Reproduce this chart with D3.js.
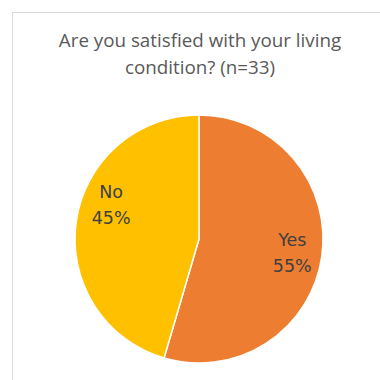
<!DOCTYPE html>
<html>
<head>
<meta charset="utf-8">
<script src="https://cdn.jsdelivr.net/npm/d3@7"></script>
<style>
  html, body { margin: 0; padding: 0; background: #fff; }
  svg { display: block; }
</style>
</head>
<body>
<svg id="chart" width="380" height="380"></svg>
<script>
// Survey responses (n = 33)
const categories = ["Yes", "No"];
const counts = [18, 15];
const percentLabels = ["55%", "45%"];
const colors = ["#ED7D31", "#FFC000"];
const titleLines = ["Are you satisfied with your living", "condition? (n=33)"];

const svg = d3.select("#chart");
const W = 380, H = 380;

// chart area frame
svg.append("rect")
  .attr("x", 12.5).attr("y", 12.5)
  .attr("width", W).attr("height", H)
  .attr("fill", "#fff")
  .attr("stroke", "#d9d9d9")
  .attr("stroke-width", 1);

// title
const title = svg.append("text")
  .attr("text-anchor", "middle")
  .attr("font-family", "'Open Sans', sans-serif")
  .attr("font-size", 18.8)
  .attr("fill", "#595959");
titleLines.forEach((line, i) => {
  title.append("tspan")
    .attr("x", 200)
    .attr("y", 47 + i * 27)
    .text(line);
});

// pie
const cx = 199, cy = 239, r = 124;
const data = categories.map((c, i) => ({ cat: c, value: counts[i], label: percentLabels[i], color: colors[i] }));

const pie = d3.pie().value(d => d.value).sort(null);
const arcs = pie(data);
const arc = d3.arc().innerRadius(0).outerRadius(r);

const g = svg.append("g").attr("transform", `translate(${cx},${cy})`);

g.selectAll("path")
  .data(arcs)
  .join("path")
  .attr("d", arc)
  .attr("fill", d => d.data.color)
  .attr("stroke", "#fff")
  .attr("stroke-width", 1.5)
  .attr("stroke-linejoin", "round");

// slice labels: best-fit placement inside each slice
const labelRadius = r * 0.76;
const labelTurn = [0, 13 * Math.PI / 180]; // the small slice's label sits a bit higher
function labelPos(d, i) {
  const a = (d.startAngle + d.endAngle) / 2 + labelTurn[i];
  return [labelRadius * Math.sin(a), -labelRadius * Math.cos(a)];
}

const labels = g.selectAll("text.slice")
  .data(arcs)
  .join("text")
  .attr("class", "slice")
  .attr("text-anchor", "middle")
  .attr("font-family", "'DejaVu Sans', sans-serif")
  .attr("font-size", 17.5)
  .attr("fill", "#404040")
  .attr("transform", (d, i) => {
    const [x, y] = labelPos(d, i);
    return `translate(${x},${y})`;
  });
labels.append("tspan").attr("x", 0).attr("y", -6.5).text(d => d.data.cat);
labels.append("tspan").attr("x", 0).attr("y", 19.5).text(d => d.data.label);
</script>
</body>
</html>
